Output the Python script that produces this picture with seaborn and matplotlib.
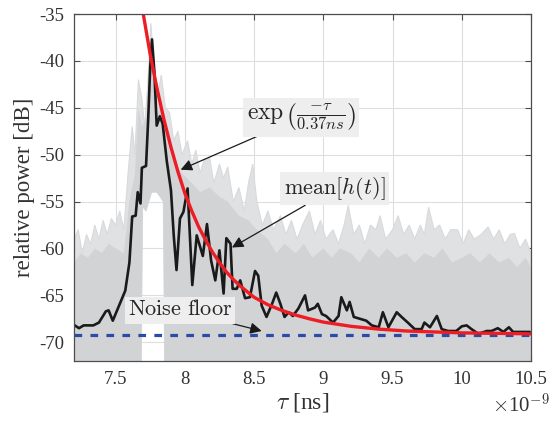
import numpy as np
import pandas as pd
import matplotlib
matplotlib.use("Agg")
import matplotlib.pyplot as plt
import seaborn as sns

# ---------------- data ----------------
# mean power delay profile (black)
mean_t = [7.20, 7.236, 7.27, 7.34, 7.38, 7.43, 7.45, 7.48, 7.525, 7.57, 7.60, 7.62, 7.645,
          7.66, 7.68, 7.69, 7.72, 7.735, 7.75, 7.763, 7.78, 7.797, 7.82, 7.84, 7.87, 7.90,
          7.92, 7.94, 7.965, 7.99, 8.02, 8.054, 8.086, 8.13, 8.16, 8.19, 8.22, 8.25, 8.28,
          8.30, 8.33, 8.345, 8.375, 8.40, 8.435, 8.47, 8.507, 8.53, 8.555, 8.59, 8.63, 8.66,
          8.69, 8.72, 8.75, 8.78, 8.82, 8.868, 8.89, 8.94, 8.96, 8.99, 9.02, 9.07, 9.11,
          9.13, 9.17, 9.19, 9.22, 9.265, 9.31, 9.35, 9.40, 9.43, 9.47, 9.53, 9.565, 9.61,
          9.66, 9.71, 9.73, 9.77, 9.82, 9.855, 9.90, 9.96, 10.00, 10.035, 10.07, 10.12,
          10.18, 10.215, 10.26, 10.30, 10.34, 10.37, 10.42, 10.49]
mean_db = [-68.15, -68.5, -68.2, -68.2, -67.9, -66.7, -66.6, -67.7, -66.1, -64.5, -61.5, -56.6,
           -56.5, -54.0, -55.2, -51.4, -51.2, -46.4, -40.7, -37.7, -41.1, -46.9, -45.9, -46.7,
           -50.7, -53.8, -58.6, -62.3, -56.8, -56.1, -53.6, -63.9, -58.6, -60.8, -57.4, -61.3,
           -63.4, -60.2, -64.8, -58.9, -59.5, -64.3, -64.3, -63.4, -65.3, -65.2, -62.4, -62.9,
           -66.1, -67.3, -65.9, -64.7, -65.9, -67.3, -66.8, -67.2, -66.4, -65.0, -66.6, -66.3,
           -65.9, -67.0, -67.2, -67.9, -67.2, -65.2, -66.6, -65.7, -67.3, -67.5, -67.7, -68.2,
           -68.4, -66.8, -68.4, -66.8, -67.3, -67.9, -68.6, -68.6, -67.9, -68.4, -67.2, -68.6,
           -68.8, -68.8, -68.3, -68.2, -68.6, -69.1, -68.8, -68.8, -68.5, -68.9, -68.4, -68.9,
           -68.9, -68.9]

# exponential fit (red)
fit_t = [7.68, 7.70, 7.75, 7.80, 7.85, 7.90, 7.95, 8.00, 8.05, 8.10, 8.15, 8.20, 8.25, 8.30,
         8.35, 8.40, 8.45, 8.50, 8.60, 8.70, 8.80, 8.90, 9.00, 9.20, 9.40, 9.60, 9.80, 10.00,
         10.25, 10.50]
fit_db = [-33.5, -35.0, -39.3, -43.0, -46.3, -49.2, -51.8, -54.1, -56.0, -57.7, -59.1, -60.4,
          -61.5, -62.5, -63.3, -64.0, -64.6, -65.2, -66.0, -66.6, -67.1, -67.5, -67.85, -68.3,
          -68.6, -68.8, -68.9, -69.0, -69.05, -69.1]

# noise floor
noise_t = [7.2, 10.5]
noise_db = [-69.2, -69.2]

# upper envelope of the individual measured profiles (light grey, peaks)
env_top_t = [7.20, 7.23, 7.26, 7.29, 7.32, 7.35, 7.38, 7.41, 7.44, 7.47, 7.50, 7.53, 7.56, 7.59,
             7.62, 7.64, 7.665, 7.69, 7.71, 7.73, 7.755, 7.775, 7.80, 7.83, 7.86, 7.89, 7.92,
             7.95, 7.98, 8.02, 8.05, 8.08, 8.11, 8.14, 8.18, 8.21, 8.25, 8.28, 8.31, 8.35, 8.39,
             8.43, 8.46, 8.49, 8.52, 8.56, 8.60, 8.64, 8.69, 8.73, 8.77, 8.81, 8.85, 8.90, 8.94,
             8.98, 9.02, 9.07, 9.11, 9.15, 9.18, 9.22, 9.26, 9.30, 9.34, 9.38, 9.41, 9.45, 9.50,
             9.54, 9.58, 9.62, 9.66, 9.70, 9.73, 9.76, 9.80, 9.84, 9.88, 9.92, 9.97, 10.01,
             10.05, 10.09, 10.14, 10.19, 10.23, 10.27, 10.31, 10.35, 10.38, 10.42, 10.46, 10.50]
env_top_db = [-59.0, -58.0, -60.5, -58.5, -59.5, -57.5, -59.0, -57.0, -58.5, -56.8, -57.5, -56.0,
              -58.0, -52.0, -47.0, -50.0, -42.0, -44.0, -47.0, -43.0, -36.0, -40.0, -44.0,
              -41.5, -45.0, -45.5, -48.5, -47.5, -50.0, -48.5, -51.0, -49.5, -52.0, -50.5,
              -50.4, -53.0, -51.0, -52.5, -51.3, -55.0, -53.5, -56.0, -53.0, -51.0, -55.0,
              -57.5, -56.0, -58.0, -56.5, -58.5, -57.0, -59.0, -57.5, -56.0, -58.5, -57.0,
              -59.0, -58.0, -59.5, -57.5, -55.4, -58.5, -57.5, -59.5, -57.5, -58.0, -56.5,
              -59.0, -58.0, -56.5, -58.5, -57.5, -59.0, -57.5, -58.5, -55.6, -58.0, -57.5,
              -59.0, -58.0, -58.0, -59.5, -58.0, -59.0, -58.5, -57.7, -59.0, -58.0, -59.5,
              -58.5, -58.4, -60.0, -59.0, -60.5]
# top of the dense part of the grey traces
core_top_t = [7.20, 7.25, 7.30, 7.35, 7.40, 7.45, 7.50, 7.56, 7.60, 7.64, 7.665, 7.69, 7.73,
              7.755, 7.80, 7.83, 7.86, 7.92, 7.98, 8.05, 8.11, 8.18, 8.25, 8.31, 8.39, 8.46,
              8.52, 8.60, 8.66, 8.72, 8.80, 8.86, 8.92, 9.00, 9.06, 9.12, 9.20, 9.26, 9.33,
              9.40, 9.46, 9.53, 9.60, 9.66, 9.73, 9.80, 9.86, 9.93, 10.00, 10.06, 10.13,
              10.20, 10.27, 10.34, 10.40, 10.46, 10.50]
core_top_db = [-61.5, -60.5, -61.0, -60.0, -60.5, -59.5, -60.0, -60.5, -55.0, -52.0, -45.0,
               -47.0, -46.0, -38.5, -46.0, -44.0, -47.5, -50.5, -52.0, -53.0, -54.0, -53.5,
               -54.5, -55.0, -56.5, -57.0, -58.0, -59.0, -60.5, -59.5, -60.5, -59.5, -61.0,
               -60.0, -61.0, -60.0, -60.5, -61.5, -60.0, -61.0, -60.0, -61.0, -60.5, -61.5,
               -60.5, -61.0, -60.0, -61.5, -61.0, -60.5, -61.5, -60.5, -61.5, -61.0, -62.0,
               -61.0, -62.0]
# lower outline: traces reach the bottom except in the gap around the main peak
env_bot_t = [10.50, 7.855, 7.845, 7.80, 7.76, 7.72, 7.695, 7.685, 7.20]
env_bot_db = [-73.0, -73.0, -55.0, -54.0, -54.0, -56.0, -55.5, -73.0, -73.0]

x_ticks = [7.5, 8.0, 8.5, 9.0, 9.5, 10.0, 10.5]
x_tick_labels = ["7.5", "8", "8.5", "9", "9.5", "10", "10.5"]
y_ticks = [-70, -65, -60, -55, -50, -45, -40, -35]

# ---------------- style ----------------
sns.set_style("whitegrid")
plt.rcParams["font.family"] = ["Liberation Serif", "DejaVu Serif"]
plt.rcParams["mathtext.fontset"] = "cm"
plt.rcParams["axes.unicode_minus"] = False

fig = plt.figure(figsize=(5.54, 4.22), dpi=100)
ax = fig.add_axes([0.1336, 0.1445, 0.825, 0.8223])

# grey measured profiles (outer light layer + dense core)
ax.fill(np.concatenate([env_top_t, env_bot_t]), np.concatenate([env_top_db, env_bot_db]),
        color="#e0e1e3", lw=0.8, ec="#d9dadc", zorder=1)
ax.fill(np.concatenate([core_top_t, env_bot_t]), np.concatenate([core_top_db, env_bot_db]),
        color="#d2d3d5", lw=0, zorder=1.5)

df_mean = pd.DataFrame({"t": mean_t, "p": mean_db})
df_fit = pd.DataFrame({"t": fit_t, "p": fit_db})
df_noise = pd.DataFrame({"t": noise_t, "p": noise_db})

sns.lineplot(data=df_noise, x="t", y="p", ax=ax, color="#2b4ca6", lw=2.3, zorder=3)
ax.lines[-1].set_dashes((2.4, 2.6))
sns.lineplot(data=df_mean, x="t", y="p", ax=ax, color="#1a1a1a", lw=1.9, zorder=4,
             sort=False, estimator=None)
sns.lineplot(data=df_fit, x="t", y="p", ax=ax, color="#ee1c25", lw=2.4, zorder=5,
             sort=False, estimator=None)

ax.set_xlim(7.2, 10.5)
ax.set_ylim(-72, -35)
ax.set_xticks(x_ticks)
ax.set_xticklabels(x_tick_labels)
ax.set_yticks(y_ticks)
ax.grid(True, color="#dedede", lw=0.8, zorder=0)
ax.set_axisbelow(True)
for s in ax.spines.values():
    s.set_color("#4d4d4d")
    s.set_linewidth(0.9)
    s.set_zorder(6)
ax.tick_params(axis="both", which="major", direction="in", length=4, width=0.8,
               color="#4d4d4d", labelsize=13.5, labelcolor="#333333", pad=7,
               top=True, right=True, bottom=True, left=True)

ax.set_xlabel(r"$\tau$ [ns]", fontsize=17, color="#333333", labelpad=2)
ax.set_ylabel("relative power [dB]", fontsize=16.5, color="#333333", labelpad=3)
ax.text(0.978, -0.128, r"$\times$10$^{-9}$", transform=ax.transAxes, fontsize=15,
        color="#333333", ha="center", va="center")

box = dict(boxstyle="square,pad=0.15", fc="#eeeeee", ec="none")
arrow = dict(arrowstyle="-|>", color="#1a1a1a", lw=0.9, mutation_scale=17,
             shrinkA=0, shrinkB=0)
ax.annotate(r"$\exp\left(\frac{-\tau}{0.37ns}\right)$", xy=(7.97, -51.6), xytext=(8.84, -46.0),
            fontsize=17, ha="center", va="center", bbox=box, arrowprops=arrow, zorder=7)
ax.annotate(r"$\mathrm{mean}[h(t)]$", xy=(8.34, -59.9), xytext=(9.08, -53.6),
            fontsize=16, ha="center", va="center", bbox=box, arrowprops=arrow, zorder=7)
ax.annotate(r"$\mathrm{Noise\ floor}$", xy=(8.555, -68.8), xytext=(7.965, -66.6),
            fontsize=16, ha="center", va="center", bbox=box, arrowprops=arrow, zorder=7)

fig.savefig("out.png", dpi=100)
